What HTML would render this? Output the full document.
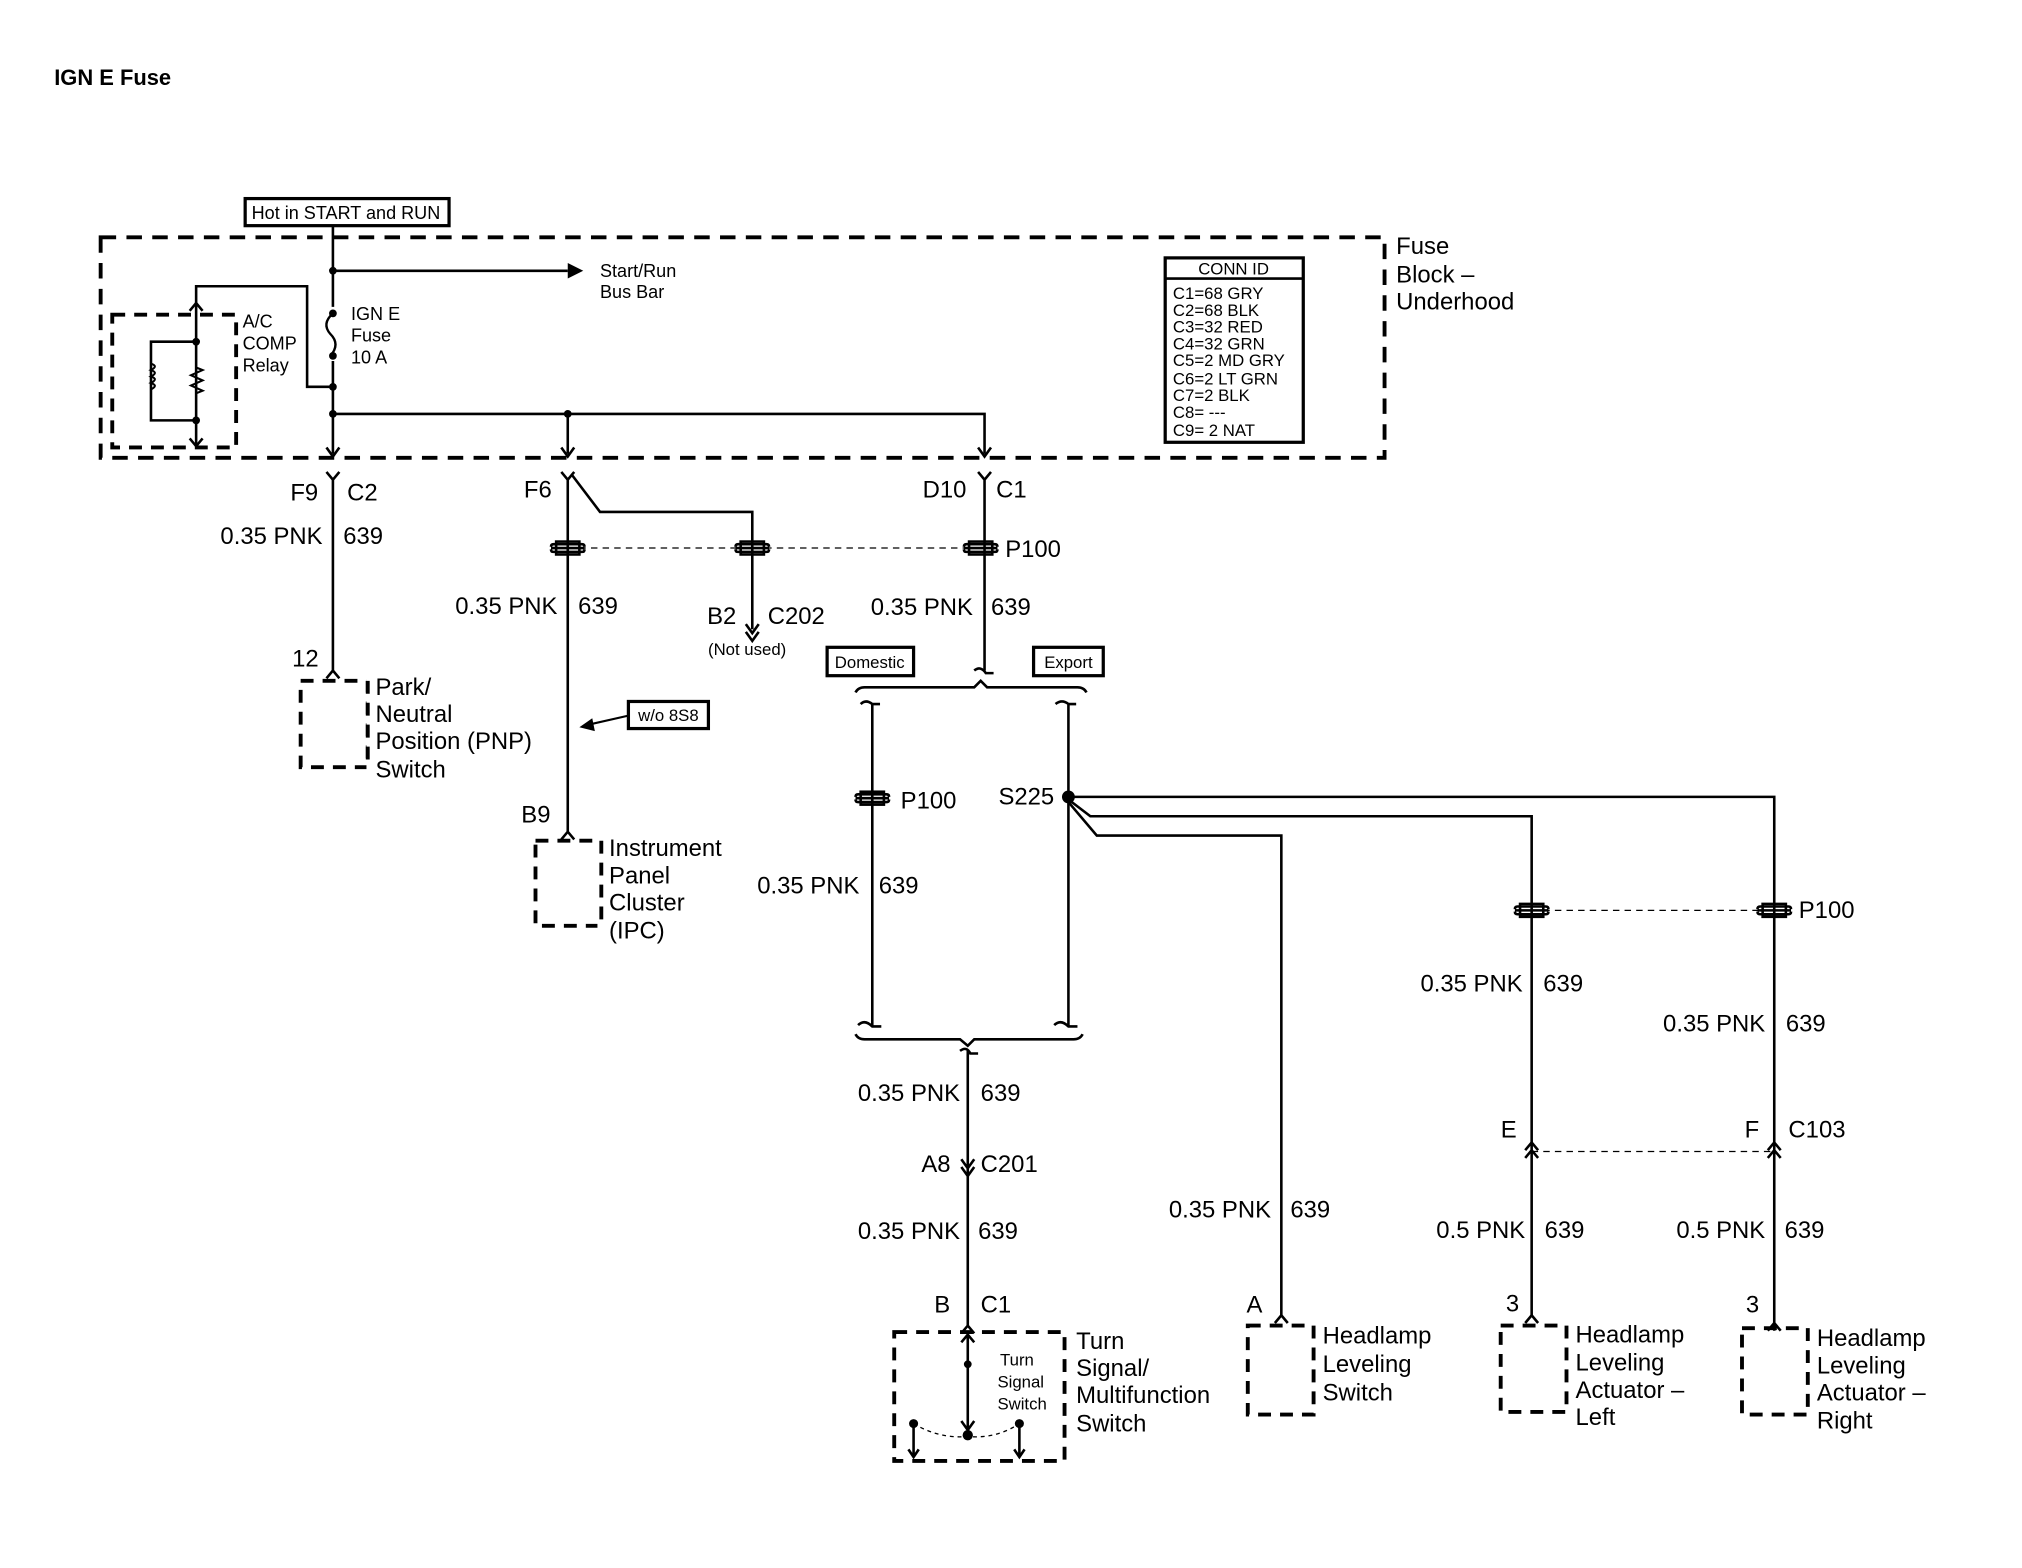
<!DOCTYPE html>
<html><head><meta charset="utf-8"><style>
html,body{margin:0;padding:0;background:#fff}
svg{display:block}
text{font-family:"Liberation Sans",Arial,sans-serif;fill:#000}
.L{font-size:18.5px}
.S{font-size:13px}
.M{font-size:14px}
</style></head><body>
<svg width="2022" height="1568" viewBox="0 0 1567 1216" preserveAspectRatio="none" xmlns="http://www.w3.org/2000/svg">
<defs>
<g id="pc"><path d="M-11,-3 Q-13,-3 -13,-1 M-11,-3 H11 Q13,-3 13,-1 M-13,0 H13 M-11,3 H11 M-13,1 Q-13,3 -11,3 M13,1 Q13,3 11,3" fill="none" stroke="#000" stroke-width="2"/><rect x="-9" y="-5" width="18" height="10" fill="none" stroke="#000" stroke-width="2"/></g>
</defs>
<text x="42" y="66" font-size="17" font-weight="bold">IGN E Fuse</text>

<rect x="190" y="154" width="158" height="21" fill="none" stroke="#000" stroke-width="2.5"/>
<text x="195" y="170" class="M">Hot in START and RUN</text>

<rect x="78" y="184" width="995" height="171" fill="none" stroke="#000" stroke-width="3" stroke-dasharray="12,8"/>
<text x="1082" y="197" class="L">Fuse</text><text x="1082" y="219" class="L">Block –</text><text x="1082" y="240" class="L">Underhood</text>

<rect x="903" y="200" width="107" height="143" fill="none" stroke="#000" stroke-width="2.5"/>
<line x1="903" y1="216" x2="1010" y2="216" stroke="#000" stroke-width="2"/>
<text x="956" y="213" class="S" text-anchor="middle">CONN ID</text>
<g class="S"><text x="909" y="232">C1=68 GRY</text><text x="909" y="245">C2=68 BLK</text><text x="909" y="258">C3=32 RED</text><text x="909" y="271">C4=32 GRN</text><text x="909" y="284">C5=2 MD GRY</text><text x="909" y="298">C6=2 LT GRN</text><text x="909" y="311">C7=2 BLK</text><text x="909" y="324">C8= ---</text><text x="909" y="338">C9= 2 NAT</text></g>

<g stroke="#000" stroke-width="2" fill="none">
<path d="M258,175 V238 M258,280 V352"/>
<path d="M258,243 Q249,251 256,259 Q264,267 256,276" stroke-width="1.8"/>
<path d="M258,210 H440"/>
<path d="M258,300 H238 V222 H152 V235"/>
<path d="M258,321 H763 V352 M440,321 V352"/>
<rect x="87" y="244" width="96" height="103" stroke-width="3" stroke-dasharray="10,7"/>
<path d="M152,235 V345"/>
<path d="M147,340 L152,346 L157,340"/>
<path d="M152,265 H117 V326 H152"/>
<path d="M117,282 q6,2 0,5 q6,2 0,5 q6,2 0,5 q6,2 0,5" stroke-width="1.6"/>
<path d="M152,285 l5,2 l-9,4 l9,4 l-9,4 l9,4 l-5,2" stroke-width="1.6"/>
<path d="M147,241 L152,235 L157,241"/>
<path d="M253,347 L258,354 L263,347 M435,347 L440,354 L445,347 M758,347 L763,354 L768,347"/>
</g>
<path d="M440,204 L452,210 L440,216 Z"/>
<circle cx="258" cy="210" r="3"/><circle cx="258" cy="300" r="3"/><circle cx="258" cy="321" r="3"/><circle cx="440" cy="321" r="3"/><circle cx="152" cy="265" r="3"/><circle cx="152" cy="326" r="3"/><circle cx="258" cy="243" r="3"/><circle cx="258" cy="276" r="3"/>
<text x="465" y="215" class="M">Start/Run</text><text x="465" y="231" class="M">Bus Bar</text>
<text x="272" y="248" class="M">IGN E</text><text x="272" y="265" class="M">Fuse</text><text x="272" y="282" class="M">10 A</text>
<text x="188" y="254" class="M">A/C</text><text x="188" y="271" class="M">COMP</text><text x="188" y="288" class="M">Relay</text>

<g stroke="#000" stroke-width="2" fill="none">
<path d="M253,366 L258,372 L263,366 M258,372 V520 M253,526 L258,520 L263,526"/>
<rect x="233" y="528" width="52" height="67" stroke-width="3" stroke-dasharray="10,7"/>
</g>
<rect x="284" y="520" width="6" height="80" fill="#fff"/>
<path d="M285,528 V595" stroke="#000" stroke-width="3" stroke-dasharray="10,7"/>
<text x="225" y="388" class="L">F9</text><text x="269" y="388" class="L">C2</text>
<text x="250" y="422" class="L" text-anchor="end">0.35 PNK</text><text x="266" y="422" class="L">639</text>
<text x="247" y="517" class="L" text-anchor="end">12</text>
<text x="291" y="539" class="L">Park/</text><text x="291" y="560" class="L">Neutral</text><text x="291" y="581" class="L">Position (PNP)</text><text x="291" y="603" class="L">Switch</text>

<g stroke="#000" stroke-width="2" fill="none">
<path d="M435,366 L440,372 L445,366 M440,372 V645 M435,651 L440,645 L445,651"/>
<path d="M443,368 L465,397 H583 V488 M578,484 L583,491 L588,484 M578,490 L583,497 L588,490"/>
<path d="M440,425 H760" stroke-width="1" stroke-dasharray="5,4"/>
<path d="M763,372 V520 M758,366 L763,372 L768,366"/>
<rect x="415" y="652" width="51" height="66" stroke-width="3" stroke-dasharray="10,7"/>
<path d="M487,555 L456,562" stroke-width="1.6"/>
</g>
<rect x="463" y="645" width="8" height="80" fill="#fff"/>
<path d="M466,652 V718" stroke="#000" stroke-width="3" stroke-dasharray="10,7"/>
<path d="M449,564 L459,557 L461,567 Z"/>
<use href="#pc" x="440" y="425"/><use href="#pc" x="583" y="425"/><use href="#pc" x="760" y="425"/>
<text x="406" y="386" class="L">F6</text>
<text x="715" y="386" class="L">D10</text><text x="772" y="386" class="L">C1</text>
<text x="779" y="432" class="L">P100</text>
<text x="432" y="476" class="L" text-anchor="end">0.35 PNK</text><text x="448" y="476" class="L">639</text>
<text x="548" y="484" class="L">B2</text><text x="595" y="484" class="L">C202</text>
<text x="579" y="508" class="S" text-anchor="middle">(Not used)</text>
<text x="754" y="477" class="L" text-anchor="end">0.35 PNK</text><text x="768" y="477" class="L">639</text>
<rect x="487" y="544" width="62" height="21" fill="none" stroke="#000" stroke-width="2.5"/>
<text x="518" y="559" class="S" text-anchor="middle">w/o 8S8</text>
<text x="404" y="638" class="L">B9</text>
<text x="472" y="664" class="L">Instrument</text><text x="472" y="685" class="L">Panel</text><text x="472" y="706" class="L">Cluster</text><text x="472" y="728" class="L">(IPC)</text>

<rect x="641" y="502" width="67" height="22" fill="none" stroke="#000" stroke-width="2.5"/>
<text x="674" y="518" class="S" text-anchor="middle">Domestic</text>
<rect x="801" y="502" width="54" height="22" fill="none" stroke="#000" stroke-width="2.5"/>
<text x="828" y="518" class="S" text-anchor="middle">Export</text>
<g stroke="#000" stroke-width="2" fill="none">
<path d="M755,520 Q760,516 764,522 H770"/>
<path d="M663,537 Q665,533 670,533 H755 L760,528 L765,533 H835 Q840,533 842,537"/>
<path d="M667,546 Q671,542 676,546 H682 M676,546 V795 M665,795 Q670,790 676,796 H683"/>
<path d="M818,546 Q823,542 828,546 H834 M828,546 V795 M817,795 Q822,790 828,796 H835"/>
<path d="M663,802 Q665,806 670,806 H744 L750,811 L755,806 H832 Q837,806 839,802"/>
<path d="M744,815 Q749,811 752,817 H758 M750,815 V1028 M745,1034 L750,1028 L755,1034"/>
<path d="M745,899 L750,906 L755,899 M745,905 L750,912 L755,905"/>
<path d="M828,618 H1375 V1032 M828,620 L845,633 H1187 V888 M828,622 L850,648 H993 V1020"/>
<path d="M1187,888 V1020"/>
<path d="M988,1026 L993,1020 L998,1026 M1182,1026 L1187,1020 L1192,1026 M1370,1032 L1375,1026 L1380,1032"/>
<path d="M1182,892 L1187,886 L1192,892 M1182,898 L1187,892 L1192,898 M1370,892 L1375,886 L1380,892 M1370,898 L1375,892 L1380,898"/>
<path d="M1187,706 H1375 M1187,893 H1375" stroke-width="1" stroke-dasharray="5,4"/>
<rect x="693" y="1033" width="132" height="100" stroke-width="3" stroke-dasharray="10,7"/>
<rect x="967" y="1028" width="51" height="69" stroke-width="3" stroke-dasharray="10,7"/>
<rect x="1163" y="1028" width="51" height="67" stroke-width="3" stroke-dasharray="10,7"/>
<rect x="1350" y="1030" width="51" height="67" stroke-width="3" stroke-dasharray="10,7"/>
<path d="M750,1035 V1113 M745,1041 L750,1035 L755,1041 M745,1102 L750,1109 L755,1102"/>
<path d="M708,1104 V1130 M704,1124 L708,1130 L712,1124 M790,1104 V1130 M786,1124 L790,1130 L794,1124"/>
<path d="M708,1104 Q728,1116 750,1114 Q772,1116 790,1104" stroke-width="1" stroke-dasharray="3,3"/>
</g>
<circle cx="828" cy="618" r="5"/>
<circle cx="750" cy="1058" r="3"/><circle cx="750" cy="1113" r="4"/><circle cx="708" cy="1104" r="3.5"/><circle cx="790" cy="1104" r="3.5"/>
<use href="#pc" x="676" y="619"/><use href="#pc" x="1187" y="706"/><use href="#pc" x="1375" y="706"/>
<text x="698" y="627" class="L">P100</text>
<text x="817" y="624" class="L" text-anchor="end">S225</text>
<text x="666" y="693" class="L" text-anchor="end">0.35 PNK</text><text x="681" y="693" class="L">639</text>
<text x="744" y="854" class="L" text-anchor="end">0.35 PNK</text><text x="760" y="854" class="L">639</text>
<text x="714" y="909" class="L">A8</text><text x="760" y="909" class="L">C201</text>
<text x="744" y="961" class="L" text-anchor="end">0.35 PNK</text><text x="758" y="961" class="L">639</text>
<text x="724" y="1018" class="L">B</text><text x="760" y="1018" class="L">C1</text>
<text x="775" y="1059" class="S">Turn</text><text x="773" y="1076" class="S">Signal</text><text x="773" y="1093" class="S">Switch</text>
<text x="834" y="1046" class="L">Turn</text><text x="834" y="1067" class="L">Signal/</text><text x="834" y="1088" class="L">Multifunction</text><text x="834" y="1110" class="L">Switch</text>

<text x="985" y="944" class="L" text-anchor="end">0.35 PNK</text><text x="1000" y="944" class="L">639</text>
<text x="966" y="1018" class="L">A</text>
<text x="1025" y="1042" class="L">Headlamp</text><text x="1025" y="1064" class="L">Leveling</text><text x="1025" y="1086" class="L">Switch</text>

<text x="1394" y="712" class="L">P100</text>
<text x="1180" y="769" class="L" text-anchor="end">0.35 PNK</text><text x="1196" y="769" class="L">639</text>
<text x="1368" y="800" class="L" text-anchor="end">0.35 PNK</text><text x="1384" y="800" class="L">639</text>
<text x="1163" y="882" class="L">E</text><text x="1352" y="882" class="L">F</text><text x="1386" y="882" class="L">C103</text>
<text x="1182" y="960" class="L" text-anchor="end">0.5 PNK</text><text x="1197" y="960" class="L">639</text>
<text x="1368" y="960" class="L" text-anchor="end">0.5 PNK</text><text x="1383" y="960" class="L">639</text>
<text x="1167" y="1017" class="L">3</text><text x="1353" y="1018" class="L">3</text>
<text x="1221" y="1041" class="L">Headlamp</text><text x="1221" y="1063" class="L">Leveling</text><text x="1221" y="1084" class="L">Actuator –</text><text x="1221" y="1105" class="L">Left</text>
<text x="1408" y="1044" class="L">Headlamp</text><text x="1408" y="1065" class="L">Leveling</text><text x="1408" y="1086" class="L">Actuator –</text><text x="1408" y="1108" class="L">Right</text>
</svg>
</body></html>
